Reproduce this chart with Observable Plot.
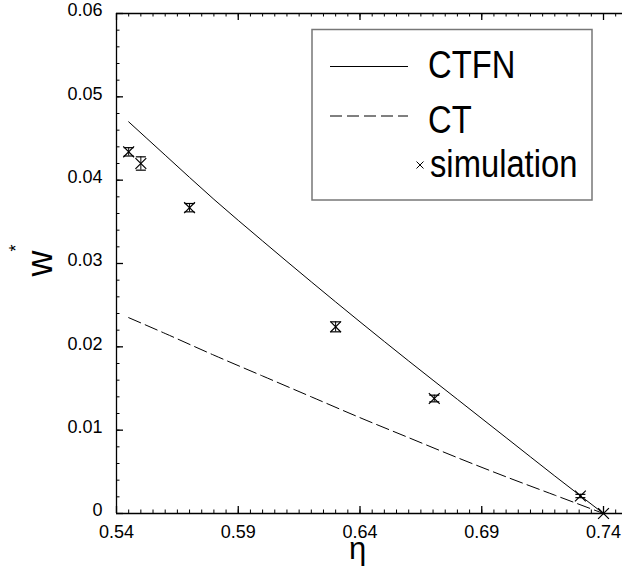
<!DOCTYPE html>
<html><head><meta charset="utf-8">
<script src="https://cdn.jsdelivr.net/npm/d3@7"></script>
<script src="https://cdn.jsdelivr.net/npm/@observablehq/plot@0.6"></script>
<style>body{margin:0;background:#fff;overflow:hidden}</style>
</head><body><div id="chart"></div>
<script>
// ---- data ----
const ctfnEta = [0.545, 0.56, 0.58, 0.60, 0.62, 0.64, 0.66, 0.68, 0.70, 0.72, 0.74];
const ctfnW   = [0.0470, 0.0430, 0.0377, 0.0327, 0.0278, 0.0230, 0.0183, 0.0137, 0.0091, 0.0045, 0.0];
const ctEta   = [0.545, 0.56, 0.58, 0.60, 0.62, 0.64, 0.66, 0.68, 0.70, 0.72, 0.74];
const ctW     = [0.0235, 0.0216, 0.0190, 0.0165, 0.0140, 0.0115, 0.0091, 0.0067, 0.0044, 0.0022, 0.0];
const simEta  = [0.545, 0.550, 0.570, 0.630, 0.6705, 0.7305, 0.740];
const simW    = [0.0434, 0.0420, 0.0367, 0.0224, 0.0138, 0.0021, 0.0];
const simErr  = [0.0005, 0.0008, 0.0005, 0.0006, 0.0004, 0.0002, 0.0];
const xTickLabels = [0.54, 0.59, 0.64, 0.69, 0.74];
const yTickLabels = [0, 0.01, 0.02, 0.03, 0.04, 0.05, 0.06];
const legendLabels = ["CTFN", "CT", "simulation"];

const ctfn = ctfnEta.map((x, i) => ({x, y: ctfnW[i]}));
const ct = ctEta.map((x, i) => ({x, y: ctW[i]}));
const sim = simEta.map((x, i) => ({x, y: simW[i], lo: simW[i] - simErr[i], hi: simW[i] + simErr[i], e: simErr[i]}));
const simBars = sim.filter(d => d.e > 0);

const xMinor = d3.range(0, 42).map(i => +(0.54 + i * 0.005).toFixed(3)).filter(v => v <= 0.7478);
const yMinor = d3.range(0, 31).map(i => +(i * 0.002).toFixed(3));

const FONT = "'Liberation Sans', Arial, Helvetica, sans-serif";
const FW = 506, FH = 500;

const hline = {draw(ctx, size) { const r = Math.sqrt(size / Math.PI); ctx.moveTo(-r, 0); ctx.lineTo(r, 0); }};

const chart = Plot.plot({
  width: 622, height: 577,
  marginLeft: 116, marginRight: 0, marginTop: 13, marginBottom: 64,
  x: {domain: [0.54, 0.7478]},
  y: {domain: [0, 0.06]},
  style: {fontFamily: FONT, background: "white", color: "black"},
  marks: [
    // frame lines
    Plot.ruleY([0, 0.06], {stroke: "black", strokeWidth: 1.3}),
    Plot.ruleX([0.54], {stroke: "black", strokeWidth: 1.3}),
    // inward ticks bottom/top
    Plot.tickX(xMinor, {x: d => d, insetTop: FH - 3.5, stroke: "black"}),
    Plot.tickX(xTickLabels, {x: d => d, insetTop: FH - 7, stroke: "black", strokeWidth: 1.3}),
    Plot.tickX(xMinor, {x: d => d, insetBottom: FH - 3.5, stroke: "black"}),
    Plot.tickX(xTickLabels, {x: d => d, insetBottom: FH - 7, stroke: "black", strokeWidth: 1.3}),
    // inward ticks left
    Plot.tickY(yMinor, {y: d => d, insetRight: FW - 3.5, stroke: "black"}),
    Plot.tickY(yTickLabels, {y: d => d, insetRight: FW - 7, stroke: "black", strokeWidth: 1.3}),
    // tick labels
    Plot.axisX(xTickLabels, {anchor: "bottom", tickSize: 0, tickPadding: 12, fontSize: 18, label: null, tickFormat: d => String(d)}),
    Plot.axisY(yTickLabels, {anchor: "left", tickSize: 0, tickPadding: 14, fontSize: 18, dy: -3, label: null, tickFormat: d => String(d)}),
    // axis titles
    Plot.text(["η"], {frameAnchor: "bottom", dx: -12, dy: 45, fontSize: 31, textAnchor: "middle"}),
    Plot.text(["w"], {frameAnchor: "left", dx: -76, dy: 13, rotate: -90, fontSize: 36}),
    Plot.text(["*"], {frameAnchor: "left", dx: -100, dy: -12, rotate: -90, fontSize: 18}),
    // theory curves
    Plot.line(ctfn, {x: "x", y: "y", stroke: "black", strokeWidth: 1, curve: "monotone-x"}),
    Plot.line(ct, {x: "x", y: "y", stroke: "black", strokeWidth: 1, strokeDasharray: "13,5", curve: "monotone-x"}),
    // simulation with error bars
    Plot.ruleX(simBars, {x: "x", y1: "lo", y2: "hi", stroke: "black", strokeWidth: 1}),
    Plot.dot(simBars, {x: "x", y: "lo", symbol: hline, r: 5, stroke: "black", strokeWidth: 1.2}),
    Plot.dot(simBars, {x: "x", y: "hi", symbol: hline, r: 5, stroke: "black", strokeWidth: 1.2}),
    Plot.dot(sim, {x: "x", y: "y", symbol: "times", r: 5, stroke: "black", strokeWidth: 1.2})
  ]
});

// legend box inside the plot
const svg = d3.select(chart);
const lg = svg.append("g").attr("font-family", FONT).attr("text-anchor", "start");
lg.append("rect").attr("x", 312).attr("y", 29.5).attr("width", 280).attr("height", 170.5)
  .attr("fill", "white").attr("stroke", "#777").attr("stroke-width", 1.5);
lg.append("line").attr("x1", 330).attr("x2", 408).attr("y1", 66.5).attr("y2", 66.5).attr("stroke", "black");
lg.append("line").attr("x1", 330).attr("x2", 408).attr("y1", 116).attr("y2", 116).attr("stroke", "black").attr("stroke-dasharray", "12,5");
lg.append("path").attr("d", "M416.5,161.5L423.5,168.5M423.5,161.5L416.5,168.5").attr("stroke", "black").attr("fill", "none");
const ly = [78, 133, 177];
const lx = [428, 428, 430];
legendLabels.forEach((t, i) => {
  lg.append("text").attr("transform", `translate(${lx[i]},${ly[i]}) scale(0.84,1)`)
    .attr("text-anchor", "start").attr("font-size", 39).attr("fill", "black").text(t);
});

document.getElementById("chart").appendChild(chart);
</script>
</body></html>
